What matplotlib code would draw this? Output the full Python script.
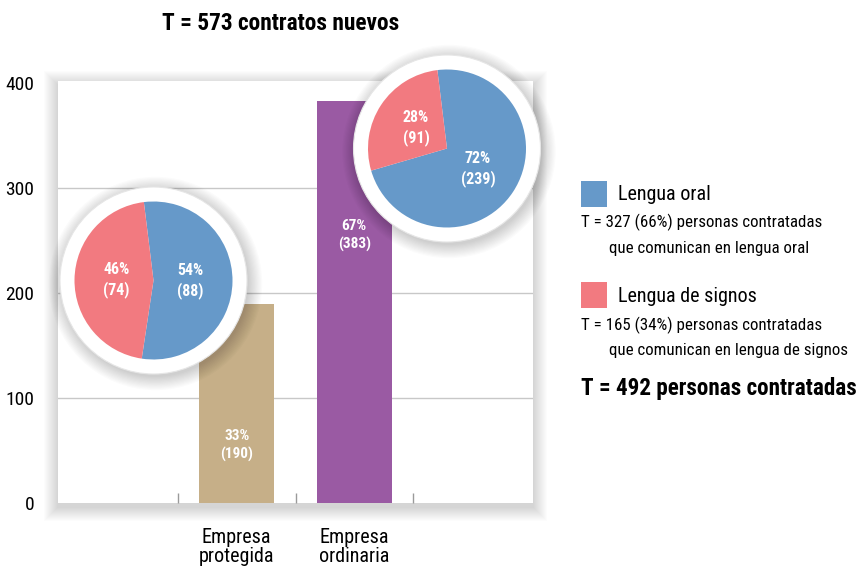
import matplotlib
matplotlib.use("Agg")
import matplotlib.pyplot as plt
from matplotlib.patches import Rectangle, Circle

plt.rcParams['font.family'] = ['Roboto Condensed', 'DejaVu Sans']

# data
categories = ["Empresa\nprotegida", "Empresa\nordinaria"]
contratos = [190, 383]
contratos_pct = [33, 67]
pie_labels = ["Lengua oral", "Lengua de signos"]
pie_protegida = [88, 74]
pie_ordinaria = [239, 91]
total_contratos = 573
oral_total, oral_pct = 327, 66
signos_total, signos_pct = 165, 34
total_personas = 492

bar_colors = ["#C6AF88", "#9A5AA3"]
pie_colors = ["#6699C9", "#F27A80"]
bar_label_y = [55, 255]

W, H = 859, 566
fig = plt.figure(figsize=(W / 100, H / 100), dpi=100)


def fx(px):
    return px / W


def fy(py):
    return 1 - py / H


# main axes box (pixels: left 58, right 533, top 81, bottom 503)
L, R, T, B = 58, 533, 81, 503
ax = fig.add_axes([fx(L), fy(B), fx(R - L), (B - T) / H])

# soft shadow around the box
for i in range(14):
    pad = 1 + i
    fig.patches.append(Rectangle((fx(L - pad), fy(B + pad + 4)),
                                 fx(R - L + 2 * pad), (B - T + 2 * pad) / H,
                                 transform=fig.transFigure, facecolor="black",
                                 edgecolor="none", alpha=0.012, zorder=-5))

x = list(range(len(categories)))
ax.bar(x, contratos, width=0.64, color=bar_colors, zorder=2)
for xi, pct, val, ly in zip(x, contratos_pct, contratos, bar_label_y):
    ax.text(xi, ly, f"{pct}%\n({val})", ha="center", va="center", color="white",
            fontsize=11, fontweight="bold", linespacing=1.3, zorder=3)

ax.set_xlim(-1.52, 2.52)
ax.set_ylim(0, 402)
ax.set_yticks([0, 100, 200, 300, 400])
ax.set_xticks(x)
ax.set_xticklabels(categories, fontsize=14.5, linespacing=1.0)
ax.set_xticks([-0.5, 0.5, 1.5], minor=True)
ax.tick_params(axis="x", which="major", length=0, pad=18)
ax.tick_params(axis="x", which="minor", direction="in", length=7, color="#9a9a9a", width=1)
ax.tick_params(axis="y", length=0, pad=17, labelsize=14)
for s in ax.spines.values():
    s.set_visible(False)
for gy in [100, 200, 300]:
    ax.axhline(gy, color="#c8c8c8", lw=1, zorder=1)

fig.text(fx(281), fy(24), f"T = {total_contratos} contratos nuevos", fontsize=16.8,
         fontweight="bold", ha="center", va="center")


def add_pie(cx, cy, values):
    size = 240
    pax = fig.add_axes([fx(cx - size / 2), fy(cy + size / 2), fx(size), size / H])
    pax.set_xlim(-size / 2, size / 2)
    pax.set_ylim(-size / 2, size / 2)
    pax.set_aspect("equal")
    pax.axis("off")
    for i in range(12):
        pax.add_patch(Circle((2, -3), 93.5 + 1.2 * i, facecolor="black",
                             edgecolor="none", alpha=0.014, zorder=0))
    pax.add_patch(Circle((0, 0), 93.5, facecolor="white", edgecolor="#e6e6e6",
                         lw=0.8, zorder=1))
    tot = sum(values)
    wedges, _, autotexts = pax.pie(
        values, colors=pie_colors, radius=79, startangle=97, counterclock=False,
        autopct=lambda p: f"{p:.0f}%\n({round(p * tot / 100)})",
        pctdistance=0.47, wedgeprops=dict(linewidth=0),
        textprops=dict(color="white", fontsize=11.5, fontweight="bold", linespacing=1.3))
    for w in wedges:
        w.set_zorder(2)
    for t in autotexts:
        t.set_zorder(3)
    pax.set_xlim(-size / 2, size / 2)
    pax.set_ylim(-size / 2, size / 2)


add_pie(153.5, 280.5, pie_protegida)
add_pie(447, 148.5, pie_ordinaria)

# legend block
fig.patches.append(Rectangle((fx(581), fy(207)), fx(26), 26 / H, transform=fig.transFigure,
                             facecolor=pie_colors[0], edgecolor="none"))
fig.text(fx(618), fy(194), pie_labels[0], fontsize=14.5, va="center", ha="left")
fig.text(fx(581), fy(222), f"T = {oral_total} ({oral_pct}%) personas contratadas",
         fontsize=12.2, va="center", ha="left")
fig.text(fx(609), fy(248), "que comunican en lengua oral", fontsize=12.2, va="center", ha="left")

fig.patches.append(Rectangle((fx(581), fy(308)), fx(26), 26 / H, transform=fig.transFigure,
                             facecolor=pie_colors[1], edgecolor="none"))
fig.text(fx(618), fy(296), pie_labels[1], fontsize=14.5, va="center", ha="left")
fig.text(fx(581), fy(325), f"T = {signos_total} ({signos_pct}%) personas contratadas",
         fontsize=12.2, va="center", ha="left")
fig.text(fx(609), fy(351), "que comunican en lengua de signos", fontsize=12.2, va="center", ha="left")

fig.text(fx(581), fy(388), f"T = {total_personas} personas contratadas", fontsize=16.7,
         fontweight="bold", va="center", ha="left")

fig.savefig("out.png", dpi=100)
